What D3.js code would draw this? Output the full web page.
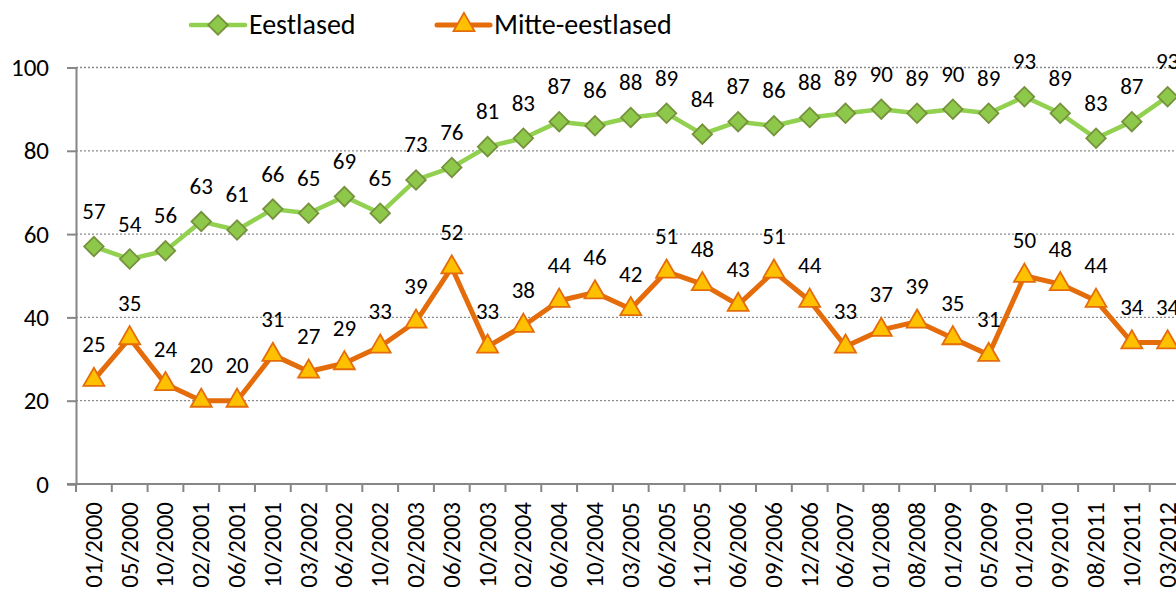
<!DOCTYPE html>
<html>
<head>
<meta charset="utf-8">
<script src="https://cdn.jsdelivr.net/npm/d3@7"></script>
<style>
  html, body { margin: 0; padding: 0; background: #fff; }
  svg { display: block; font-family: Carlito, Calibri, "Open Sans", "Noto Sans", sans-serif; }
</style>
</head>
<body>
<svg id="chart" width="1176" height="595"></svg>
<script>
// Survey periods (month/year)
const categories = ["01/2000","05/2000","10/2000","02/2001","06/2001","10/2001","03/2002","06/2002","10/2002","02/2003","06/2003","10/2003","02/2004","06/2004","10/2004","03/2005","06/2005","11/2005","06/2006","09/2006","12/2006","06/2007","01/2008","08/2008","01/2009","05/2009","01/2010","09/2010","08/2011","10/2011","03/2012"];
// Share (%) per group
const eestlased = [57,54,56,63,61,66,65,69,65,73,76,81,83,87,86,88,89,84,87,86,88,89,90,89,90,89,93,89,83,87,93];
const mitteEestlased = [25,35,24,20,20,31,27,29,33,39,52,33,38,44,46,42,51,48,43,51,44,33,37,39,35,31,50,48,44,34,34];
const yTicks = [0,20,40,60,80,100];
const seriesNames = ["Eestlased","Mitte-eestlased"];

const svg = d3.select("#chart");
const plotLeft = 76, plotRight = 1185.5, plotTop = 67.5, plotBottom = 484;

const x = d3.scaleBand().domain(categories).range([plotLeft, plotRight]).padding(0);
const y = d3.scaleLinear().domain([0,100]).range([plotBottom, plotTop]);
const cx = i => x(categories[i]) + x.bandwidth() / 2;

const axisColor = "#868686";

// Horizontal dotted gridlines
svg.append("g").selectAll("line").data(yTicks.filter(t => t > 0)).join("line")
  .attr("x1", plotLeft).attr("x2", 1176)
  .attr("y1", d => y(d)).attr("y2", d => y(d))
  .attr("stroke", "#8a8a8a").attr("stroke-width", 1.3)
  .attr("stroke-dasharray", "2,2");

// Y axis
const yAxis = svg.append("g").attr("transform", `translate(${plotLeft},0)`)
  .call(d3.axisLeft(y).tickValues(yTicks).tickSize(9).tickPadding(18));
yAxis.select(".domain").attr("stroke", axisColor).attr("stroke-width", 2);
yAxis.selectAll(".tick line").attr("stroke", axisColor).attr("stroke-width", 2);
yAxis.selectAll("text").attr("font-size", 25).attr("fill", "#000")
  .style("font-family", "Carlito, Calibri, 'Open Sans', sans-serif");

// X axis with ticks at category boundaries
const xAxisG = svg.append("g").attr("transform", `translate(0,${plotBottom})`);
xAxisG.append("line").attr("x1", plotLeft - 9).attr("x2", 1176).attr("y1", 0).attr("y2", 0)
  .attr("stroke", axisColor).attr("stroke-width", 2);
xAxisG.selectAll("line.tk").data(categories).join("line").attr("class","tk")
  .attr("x1", d => x(d)).attr("x2", d => x(d)).attr("y1", 0).attr("y2", 8)
  .attr("stroke", axisColor).attr("stroke-width", 2);
xAxisG.selectAll("text").data(categories).join("text")
  .attr("transform", d => `translate(${x(d) + x.bandwidth()/2 + 8},18) rotate(-90)`)
  .attr("text-anchor", "end")
  .attr("font-size", 25).attr("fill", "#000")
  .text(d => d);

// Lines
const line = d3.line().x((d,i) => cx(i)).y(d => y(d));
svg.append("path").datum(eestlased).attr("d", line)
  .attr("fill","none").attr("stroke","#92D050").attr("stroke-width",4.5).attr("stroke-linejoin","round");
svg.append("path").datum(mitteEestlased).attr("d", line)
  .attr("fill","none").attr("stroke","#E46C0A").attr("stroke-width",5).attr("stroke-linejoin","round");

const diamond = d3.symbol().type(d3.symbolSquare).size(190);
const triangle = d3.symbol().type(d3.symbolTriangle).size(190);

// Markers
svg.append("g").selectAll("path").data(eestlased).join("path")
  .attr("d", diamond())
  .attr("transform", (d,i) => `translate(${cx(i)},${y(d)}) rotate(45)`)
  .attr("fill","#8DC84A").attr("stroke","#76923C").attr("stroke-width",1.8);
svg.append("g").selectAll("path").data(mitteEestlased).join("path")
  .attr("d", triangle())
  .attr("transform", (d,i) => `translate(${cx(i)},${y(d)})`)
  .attr("fill","#FFC000").attr("stroke","#E46C0A").attr("stroke-width",1.8);

// Value labels
function labels(data) {
  svg.append("g").selectAll("text").data(data).join("text")
    .attr("x", (d,i) => cx(i))
    .attr("y", d => y(d) - 27.5)
    .attr("text-anchor","middle").attr("font-size", 23).attr("fill","#000")
    .text(d => d);
}
labels(eestlased);
labels(mitteEestlased);

// Legend
const legend = svg.append("g");
legend.append("line").attr("x1",191).attr("x2",245).attr("y1",25).attr("y2",25)
  .attr("stroke","#92D050").attr("stroke-width",4.5).attr("stroke-linecap","round");
legend.append("path").attr("d", diamond()).attr("transform","translate(218,25) rotate(45)")
  .attr("fill","#8DC84A").attr("stroke","#76923C").attr("stroke-width",1.8);
legend.append("text").attr("x",249).attr("y",34).attr("font-size",28).text(seriesNames[0]);
legend.append("line").attr("x1",437).attr("x2",490).attr("y1",25).attr("y2",25)
  .attr("stroke","#E46C0A").attr("stroke-width",5).attr("stroke-linecap","round");
legend.append("path").attr("d", triangle()).attr("transform","translate(464,25)")
  .attr("fill","#FFC000").attr("stroke","#E46C0A").attr("stroke-width",1.8);
legend.append("text").attr("x",494).attr("y",34).attr("font-size",28).text(seriesNames[1]);
</script>
</body>
</html>
